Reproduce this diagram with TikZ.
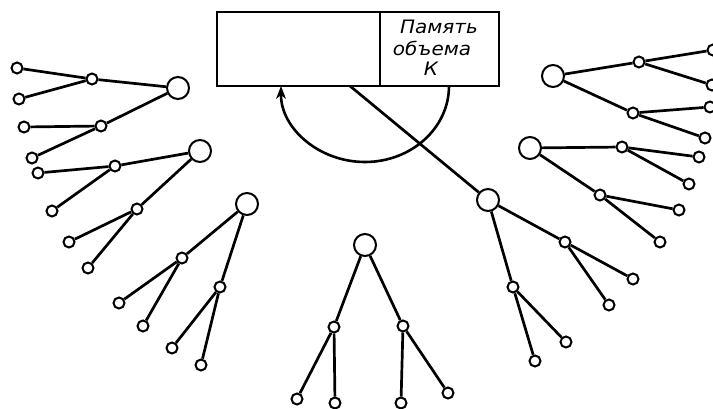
\documentclass[tikz,border=0pt]{standalone}
\usepackage{fontspec}
\newfontfamily\gostfont{DejaVu Sans}
\usetikzlibrary{arrows.meta}
\begin{document}
\begin{tikzpicture}[x=1pt,y=-1pt,
  vtx/.style={circle,draw,line width=2pt,fill=white,inner sep=0pt,minimum size=11pt},
  rootv/.style={vtx,minimum size=22pt},
  link/.style={line width=2.7pt},
  memtext/.style={font=\gostfont\itshape\fontsize{18.5}{18.5}\selectfont,inner sep=0pt}]
\useasboundingbox (0,0) rectangle (713,409);

% memory block
\node[draw,line width=1.7pt,minimum width=282pt,minimum height=74pt,inner sep=0pt] (mem) at (358,49) {};
\coordinate (dtop) at (380,12);
\coordinate (dbot) at (380,86);
\draw[line width=1.5pt] (dtop) -- (dbot);
\node[memtext] (t1) at (439,27) {\scalebox{1.08}[1]{Память}};
\node[memtext] (t2) at (432,48) {\scalebox{1.08}[1]{объема}};
\node[memtext] (t3) at (431,69) {\scalebox{1.08}[1]{К}};

% return arc
\coordinate (arcR) at (449,86);
\coordinate (arcL) at (281,86);
\draw[line width=2.6pt,-{Stealth[length=13pt,width=10pt,inset=4pt,line width=0pt]}] (arcR) arc[start angle=0,end angle=180,x radius=84,y radius=76];

% trees: roots
\foreach \n/\x/\y in {ra/178/88, rb/200/151, rc/247/204, rd/365/245, re/488/200, rf/530/148, rg/553/76}
  \node[rootv] (\n) at (\x,\y) {};
% inner vertices and leaves
\foreach \n/\x/\y in {
  a1/92/79, a2/101/126, a11/17/68, a12/19/99, a21/24/127, a22/32/158,
  b1/115/166, b2/137/209, b11/38/173, b12/52/211, b21/69/242, b22/88/268,
  c1/182/258, c2/220/287, c11/119/303, c12/143/326, c21/172/348, c22/201/365,
  d1/334/327, d2/403/326, d11/297/399, d12/335/403, d21/401/403, d22/448/393,
  e1/565/242, e2/513/287, e11/633/279, e12/609/305, e21/566/342, e22/535/361,
  f1/622/147, f2/600/195, f11/699/157, f12/689/184, f21/679/210, f22/660/242,
  g1/639/62, g2/633/113, g11/713/50, g12/712/85, g21/710/107, g22/705/138}
  \node[vtx] (\n) at (\x,\y) {};

% tree edges
\foreach \t in {a,b,c,d,e,f,g} {
  \draw[link] (r\t) -- (\t1);
  \draw[link] (r\t) -- (\t2);
  \draw[link] (\t1) -- (\t11);
  \draw[link] (\t1) -- (\t12);
  \draw[link] (\t2) -- (\t21);
  \draw[link] (\t2) -- (\t22);
}

% link from the block to a tree
\coordinate (cut) at (350,86);
\draw[link] (cut) -- (re);
\end{tikzpicture}
\end{document}
